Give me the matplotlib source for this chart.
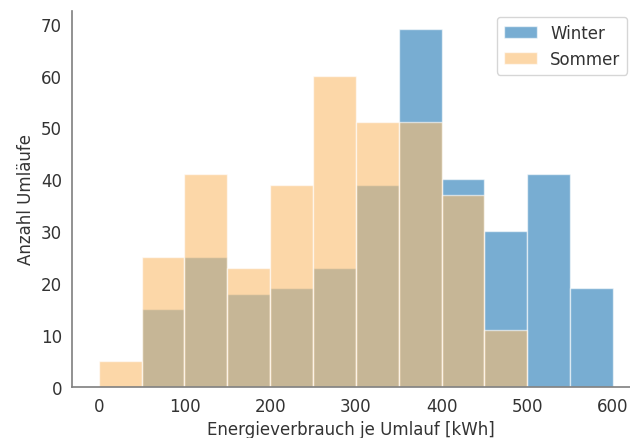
import numpy as np
import matplotlib.pyplot as plt

# Klassengrenzen (Breite 50 kWh)
bin_edges = np.arange(0, 650, 50)

# Anzahl Umläufe je Klasse
winter_counts = [0, 15, 25, 18, 19, 23, 39, 69, 40, 30, 41, 19]
sommer_counts = [5, 25, 41, 23, 39, 60, 51, 51, 37, 11, 0, 0]

plt.rcParams['font.family'] = 'DejaVu Sans'
plt.rcParams['text.color'] = '#333333'
plt.rcParams['axes.labelcolor'] = '#333333'
plt.rcParams['xtick.color'] = '#333333'
plt.rcParams['ytick.color'] = '#333333'

fig = plt.figure(figsize=(6.3, 4.39), dpi=100)
ax = fig.add_axes([0.114, 0.116, 0.886, 0.857])

left = bin_edges[:-1]
width = np.diff(bin_edges)

ax.bar(left, winter_counts, width=width, align='edge', color='#1f77b4',
       alpha=0.6, edgecolor='white', linewidth=1, label='Winter')
ax.bar(left, sommer_counts, width=width, align='edge', color='#fbbd6e',
       alpha=0.6, edgecolor='white', linewidth=1, label='Sommer')

ax.set_xlim(-31.5, 620)
ax.set_ylim(0, 72.45)
ax.set_xticks(np.arange(0, 700, 100))
ax.set_yticks(np.arange(0, 80, 10))
ax.tick_params(length=0, labelsize=12, pad=7)

for s in ['top', 'right']:
    ax.spines[s].set_visible(False)
for s in ['left', 'bottom']:
    ax.spines[s].set_color('#7f7f7f')
    ax.spines[s].set_linewidth(1.2)

ax.set_xlabel('Energieverbrauch je Umlauf [kWh]', fontsize=12, labelpad=4)
ax.set_ylabel('Anzahl Umläufe', fontsize=12)

ax.legend(loc='upper right', bbox_to_anchor=(0.995, 0.984), borderaxespad=0,
          fontsize=12, frameon=True, edgecolor='#cccccc')

fig.savefig('out.png', dpi=100)
